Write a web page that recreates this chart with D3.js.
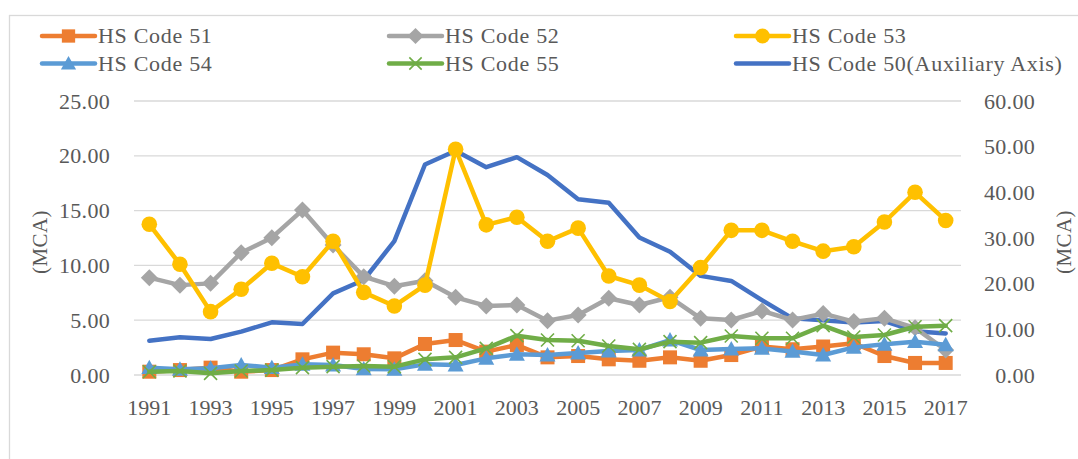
<!DOCTYPE html>
<html><head><meta charset="utf-8">
<script src="https://cdn.jsdelivr.net/npm/d3@7"></script>
<style>
html,body{margin:0;padding:0;background:#fff;}
svg text{font-family:'Palatino Linotype','Book Antiqua','Liberation Serif',serif;fill:#595959;}
</style></head>
<body>
<svg id="chart" width="1078" height="459"></svg>
<script>
const years = ["1991","1992","1993","1994","1995","1996","1997","1998","1999","2000","2001","2002","2003","2004","2005","2006","2007","2008","2009","2010","2011","2012","2013","2014","2015","2016","2017"];
const xTickLabels = ["1991","1993","1995","1997","1999","2001","2003","2005","2007","2009","2011","2013","2015","2017"];
const leftTicks = [0,5,10,15,20,25];
const rightTicks = [0,10,20,30,40,50,60];

const hs51 = [0.30,0.45,0.67,0.30,0.45,1.43,2.04,1.89,1.52,2.83,3.19,2.13,2.74,1.61,1.73,1.43,1.30,1.61,1.30,1.82,2.60,2.35,2.60,2.90,1.73,1.10,1.10];
const hs52 = [8.88,8.20,8.36,11.16,12.53,15.05,11.86,8.97,8.10,8.60,7.09,6.30,6.39,4.96,5.47,7.00,6.39,7.09,5.17,5.02,5.84,5.02,5.60,4.87,5.17,4.30,2.28];
const hs53 = [13.75,10.10,5.78,7.82,10.19,8.97,12.20,7.54,6.30,8.20,20.60,13.70,14.40,12.20,13.40,9.03,8.20,6.70,9.80,13.20,13.20,12.20,11.30,11.70,13.96,16.67,14.10];
const hs54 = [0.67,0.52,0.61,0.91,0.67,0.97,0.91,0.55,0.52,0.97,0.91,1.52,1.89,1.82,2.00,2.19,2.28,3.19,2.28,2.37,2.43,2.15,1.82,2.52,2.80,3.04,2.75];
const hs55 = [0.30,0.36,0.15,0.36,0.45,0.67,0.76,0.82,0.76,1.43,1.61,2.43,3.59,3.19,3.13,2.65,2.34,3.04,2.95,3.56,3.35,3.35,4.50,3.47,3.65,4.40,4.50];
const hs50 = [7.50,8.25,7.88,9.49,11.53,11.17,17.88,20.80,29.30,46.10,49.10,45.50,47.70,43.80,38.50,37.70,30.10,27.00,21.70,20.60,16.40,12.40,12.00,11.50,11.80,9.60,9.10];

const seriesNames = ["HS Code 51","HS Code 52","HS Code 53","HS Code 54","HS Code 55","HS Code 50(Auxiliary Axis)"];
const seriesColors = ["#ED7D31","#A5A5A5","#FFC000","#5B9BD5","#70AD47","#4472C4"];
const seriesMarkers = ["square","diamond","circle","triangle","x","none"];
const seriesData = [hs51,hs52,hs53,hs54,hs55,hs50];
const seriesAxis = ["left","left","left","left","left","right"];

const svg = d3.select("#chart");
const plot = {left:134, right:961, top:101, bottom:375};
const fontFam = "'Palatino Linotype','Book Antiqua','Liberation Serif',serif";

// outer border
svg.append("rect").attr("x",9.5).attr("y",15.5).attr("width",1100).attr("height",500)
  .attr("fill","none").attr("stroke","#d9d9d9").attr("stroke-width",1.3);

const x = d3.scaleBand().domain(years).range([plot.left, plot.right]).paddingInner(0).paddingOuter(0);
const xc = d => x(d) + x.bandwidth()/2;
const yL = d3.scaleLinear().domain([0,25]).range([plot.bottom, plot.top]);
const yR = d3.scaleLinear().domain([0,60]).range([plot.bottom, plot.top]);

// gridlines
svg.append("g").selectAll("line").data(leftTicks).join("line")
  .attr("x1",plot.left).attr("x2",plot.right)
  .attr("y1",d=>yL(d)).attr("y2",d=>yL(d))
  .attr("stroke","#d9d9d9").attr("stroke-width",1.3);

// left axis
const leftAxis = d3.axisLeft(yL).tickValues(leftTicks).tickFormat(d3.format(".2f")).tickSize(0).tickPadding(24);
const gL = svg.append("g").attr("transform",`translate(${plot.left},0)`).call(leftAxis);
gL.select(".domain").remove();
gL.selectAll("text").style("font-size","22px").attr("fill","#595959").style("letter-spacing","0.3px")
  .style("font-family",fontFam);

// right axis
const rightAxis = d3.axisRight(yR).tickValues(rightTicks).tickFormat(d3.format(".2f")).tickSize(0).tickPadding(0);
const gR = svg.append("g").attr("transform",`translate(1035,0)`).call(rightAxis);
gR.select(".domain").remove();
gR.selectAll("text").style("font-size","22px").attr("fill","#595959").attr("text-anchor","end").style("letter-spacing","0.3px")
  .style("font-family",fontFam);

// x axis
const xAxis = d3.axisBottom(x).tickValues(xTickLabels).tickSize(0).tickPadding(0);
const gX = svg.append("g").attr("transform",`translate(0,${plot.bottom})`).call(xAxis);
gX.select(".domain").remove();
gX.selectAll("text").style("font-size","22px").attr("fill","#595959").attr("dy",null).attr("y",40)
  .style("font-family",fontFam);

// axis titles
svg.append("text").attr("transform","translate(47,242) rotate(-90)").attr("text-anchor","middle")
  .style("font-size","21px").style("letter-spacing","0.4px").text("(MCA)");
svg.append("text").attr("transform","translate(1064,242) rotate(-90)").attr("text-anchor","middle")
  .attr("dy","0.35em").style("font-size","21px").style("letter-spacing","0.4px").text("(MCA)");

function drawMarker(g, type, color, cx, cy, scale){
  const s = scale || 1;
  if(type==="square"){
    g.append("rect").attr("x",cx-7*s).attr("y",cy-7*s).attr("width",14*s).attr("height",14*s).attr("fill",color);
  } else if(type==="diamond"){
    const r=8.5*s;
    g.append("path").attr("d",`M${cx},${cy-r}L${cx+r},${cy}L${cx},${cy+r}L${cx-r},${cy}Z`).attr("fill",color);
  } else if(type==="circle"){
    g.append("circle").attr("cx",cx).attr("cy",cy).attr("r",7.8*s).attr("fill",color);
  } else if(type==="triangle"){
    const r=8*s;
    g.append("path").attr("d",`M${cx},${cy-r}L${cx+r},${cy+r*0.8}L${cx-r},${cy+r*0.8}Z`).attr("fill",color);
  } else if(type==="x"){
    const r=6.5*s;
    g.append("path").attr("d",`M${cx-r},${cy-r}L${cx+r},${cy+r}M${cx+r},${cy-r}L${cx-r},${cy+r}`)
      .attr("stroke",color).attr("stroke-width",1.6).attr("fill","none");
  }
}

// draw order: auxiliary series first, then 51..55
const order = [5,0,1,2,3,4];
order.forEach(i=>{
  const data = seriesData[i];
  const yS = seriesAxis[i]==="right" ? yR : yL;
  const g = svg.append("g");
  const line = d3.line().x((d,j)=>xc(years[j])).y(d=>yS(d));
  g.append("path").datum(data).attr("d",line).attr("fill","none")
    .attr("stroke",seriesColors[i]).attr("stroke-width",4.5).attr("stroke-linejoin","round").attr("stroke-linecap","round");
  if(seriesMarkers[i]!=="none"){
    data.forEach((d,j)=>drawMarker(g, seriesMarkers[i], seriesColors[i], xc(years[j]), yS(d)));
  }
});

// legend
const legendCols = [42, 389, 736];
const legendRows = [36, 63.5];
seriesNames.forEach((name,i)=>{
  const cx = legendCols[i%3], cy = legendRows[Math.floor(i/3)];
  const g = svg.append("g");
  g.append("line").attr("x1",cx).attr("x2",cx+53).attr("y1",cy).attr("y2",cy)
    .attr("stroke",seriesColors[i]).attr("stroke-width",4.5).attr("stroke-linecap","round");
  if(seriesMarkers[i]!=="none") drawMarker(g, seriesMarkers[i], seriesColors[i], cx+26.5, cy, 0.95);
  g.append("text").attr("x",cx+56).attr("y",cy).attr("dy","0.33em").style("font-size","22px")
    .style("letter-spacing","0.7px").text(name);
});
</script>
</body></html>
